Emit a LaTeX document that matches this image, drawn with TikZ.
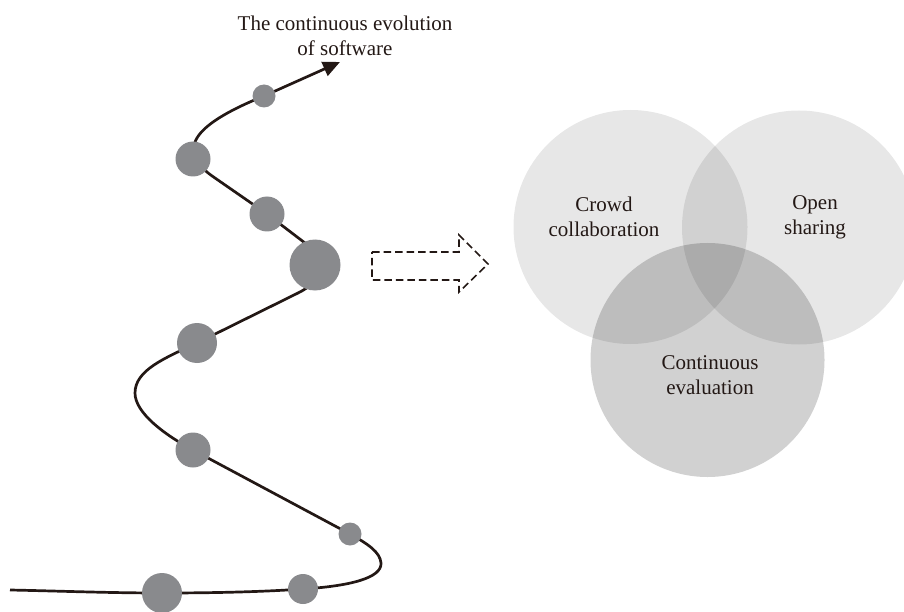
\documentclass[tikz,border=0pt]{standalone}
\usepackage{fontspec}
\setmainfont{Liberation Serif}
\usetikzlibrary{arrows.meta}
\definecolor{ink}{RGB}{35,24,21}
\definecolor{dotgray}{RGB}{137,138,141}
\tikzset{
  curveline/.style={draw=ink, line width=2.7pt},
  dot/.style={circle, fill=dotgray, inner sep=0pt, draw=none},
  venn/.style={circle, fill=black, inner sep=0pt, minimum size=234pt, draw=none},
  lbl/.style={align=center, text=ink, font=\fontsize{21}{25}\selectfont, inner sep=0pt},
  dasharrow/.style={draw=ink, line width=1.6pt, dash pattern=on 7.5pt off 4pt, line join=miter}
}
\begin{document}
\begin{tikzpicture}[x=1pt,y=-1pt]
\useasboundingbox (0,0) rectangle (904,612);
% path coordinates
\coordinate (s) at (10,590);
\coordinate (p1) at (162,593);
\coordinate (p2) at (303,589);
\coordinate (p3) at (350,534);
\coordinate (p4) at (193,450);
\coordinate (p5) at (197,343);
\coordinate (p6) at (315,265);
\coordinate (p7) at (267,214);
\coordinate (p8) at (193,159);
\coordinate (p9) at (264,96);
\coordinate (e) at (340,62);
\draw[curveline, -{Triangle[length=17pt,width=15pt]}]
  (s) .. controls (60,591) and (110,593) .. (p1)
      .. controls (210,593) and (260,592) .. (p2)
      .. controls (350,586) and (382,578) .. (381,563)
      .. controls (380,552) and (368,544) .. (p3)
      -- (p4)
      .. controls (165,435) and (135,413) .. (135,393)
      .. controls (135,370) and (165,358) .. (p5)
      -- (298,293)
      .. controls (325,280) and (328,258) .. (305,243)
      -- (p7) -- (215,178)
      .. controls (170,148) and (200,122) .. (p9)
      -- (e);
% dots
\node[dot, minimum size=40pt] (d1) at (p1) {};
\node[dot, minimum size=30pt] (d2) at (p2) {};
\node[dot, minimum size=23pt] (d3) at (p3) {};
\node[dot, minimum size=35pt] (d4) at (p4) {};
\node[dot, minimum size=40pt] (d5) at (p5) {};
\node[dot, minimum size=51pt] (d6) at (p6) {};
\node[dot, minimum size=35pt] (d7) at (p7) {};
\node[dot, minimum size=35pt] (d8) at (p8) {};
\node[dot, minimum size=23pt] (d9) at (p9) {};
% title
\node[lbl] (title) at (345,36) {The continuous evolution\\of software};
% dashed arrow
\draw[dasharrow] (372,252) -- (459,252) -- (459,235) -- (488,264) -- (459,292) -- (459,280) -- (372,280) -- cycle;
% venn
\node[venn, fill opacity=0.095] (A) at (630.5,227) {};
\node[venn, fill opacity=0.095] (B) at (799,227.5) {};
\node[venn, fill opacity=0.18] (C) at (707.5,360) {};
\node[lbl] (ta) at (604,217) {Crowd\\collaboration};
\node[lbl] (tb) at (815,217) {Open\\sharing};
\node[lbl] (tc) at (710,375) {Continuous\\evaluation};
\end{tikzpicture}
\end{document}
